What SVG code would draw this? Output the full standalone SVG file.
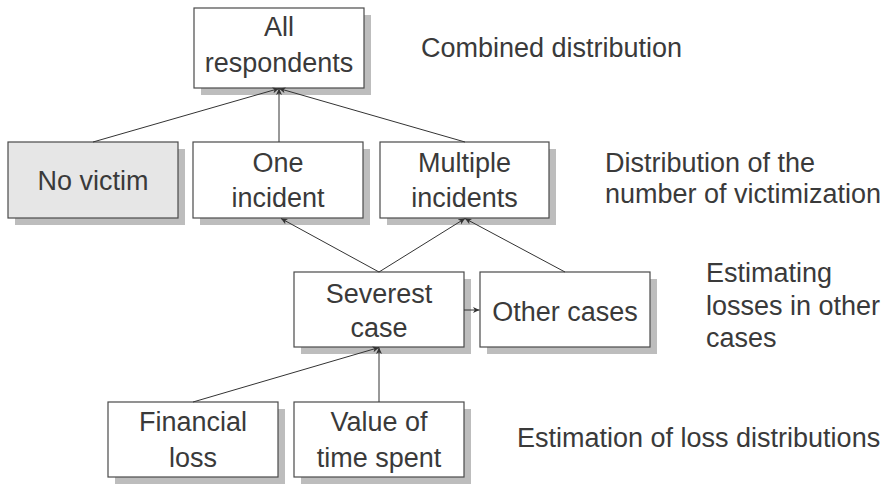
<svg xmlns="http://www.w3.org/2000/svg" width="889" height="487" viewBox="0 0 889 487">
<defs>
<marker id="ah" markerWidth="8" markerHeight="7" refX="6.5" refY="3" orient="auto" markerUnits="userSpaceOnUse">
<path d="M0,0 L6.5,3 L0,6 L1.8,3 Z" fill="#333"/>
</marker>
<style>
.box{fill:#fff;stroke:#4a4a4a;stroke-width:1.2}
.gray{fill:#e6e6e6}
.sh{fill:#bdbdbd}
.t{font-family:"Liberation Sans",Arial,Helvetica,sans-serif;font-size:27px;fill:#3a3a3a}
.c{text-anchor:middle}
.ln{stroke:#333;stroke-width:1;fill:none;marker-end:url(#ah)}
</style>
</defs>
<rect width="889" height="487" fill="#fff"/>
<g id="all">
<rect class="sh" x="201" y="15" width="170" height="80"/>
<rect class="box" x="194" y="8" width="170" height="80"/>
<text class="t c" x="279" y="36">All</text>
<text class="t c" x="279" y="72">respondents</text>
</g>
<g id="novictim">
<rect class="sh" x="15" y="149" width="170" height="76"/>
<rect class="box gray" x="8" y="142" width="170" height="76"/>
<text class="t c" x="93" y="190">No victim</text>
</g>
<g id="one">
<rect class="sh" x="200" y="149" width="170" height="76"/>
<rect class="box" x="193" y="142" width="170" height="76"/>
<text class="t c" x="278" y="172">One</text>
<text class="t c" x="278" y="207">incident</text>
</g>
<g id="multiple">
<rect class="sh" x="387" y="149" width="169" height="76"/>
<rect class="box" x="380" y="142" width="169" height="76"/>
<text class="t c" x="464.5" y="172">Multiple</text>
<text class="t c" x="464.5" y="207">incidents</text>
</g>
<g id="severest">
<rect class="sh" x="301" y="279" width="170" height="75"/>
<rect class="box" x="294" y="272" width="170" height="75"/>
<text class="t c" x="379" y="302.5">Severest</text>
<text class="t c" x="379" y="336.5">case</text>
</g>
<g id="other">
<rect class="sh" x="487" y="279" width="170" height="75"/>
<rect class="box" x="480" y="272" width="170" height="75"/>
<text class="t c" x="565" y="320.5">Other cases</text>
</g>
<g id="financial">
<rect class="sh" x="115" y="409" width="170" height="75"/>
<rect class="box" x="108" y="402" width="170" height="75"/>
<text class="t c" x="193" y="430.5">Financial</text>
<text class="t c" x="193" y="466.5">loss</text>
</g>
<g id="value">
<rect class="sh" x="301" y="409" width="170" height="75"/>
<rect class="box" x="294" y="402" width="170" height="75"/>
<text class="t c" x="379" y="430.5">Value of</text>
<text class="t c" x="379" y="466.5">time spent</text>
</g>
<g id="connectors">
<line class="ln" x1="93" y1="142" x2="279" y2="88.5"/>
<line class="ln" x1="279" y1="142" x2="279" y2="88.5"/>
<line class="ln" x1="465" y1="142" x2="279" y2="88.5"/>
<line class="ln" x1="379" y1="272" x2="281" y2="218.5"/>
<line class="ln" x1="379" y1="272" x2="465" y2="218.5"/>
<line class="ln" x1="565" y1="272" x2="465" y2="218.5"/>
<line class="ln" x1="464" y1="310" x2="479.5" y2="310"/>
<line class="ln" x1="193" y1="402" x2="379" y2="347.5"/>
<line class="ln" x1="379" y1="402" x2="379" y2="347.5"/>
</g>
<g id="labels">
<text class="t" x="421" y="57">Combined distribution</text>
<text class="t" x="605" y="172">Distribution of the</text>
<text class="t" x="605" y="203">number of victimization</text>
<text class="t" x="706" y="282">Estimating</text>
<text class="t" x="706" y="315">losses in other</text>
<text class="t" x="706" y="347">cases</text>
<text class="t" x="517" y="447">Estimation of loss distributions</text>
</g>
</svg>
